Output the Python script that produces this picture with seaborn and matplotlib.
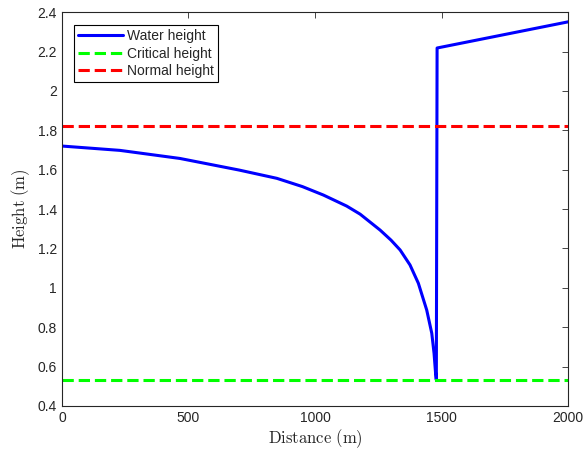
import numpy as np
import pandas as pd
import matplotlib
matplotlib.use("Agg")
import matplotlib.pyplot as plt
import seaborn as sns

# water surface profile
distance = [0, 229, 466, 700, 849, 950, 1033, 1125, 1178, 1257, 1300, 1336,
            1375, 1408, 1441, 1461, 1470, 1476, 1479, 1482, 2000]
height = [1.720, 1.698, 1.657, 1.598, 1.556, 1.514, 1.471, 1.415, 1.374,
          1.293, 1.242, 1.192, 1.116, 1.023, 0.887, 0.769, 0.667, 0.566,
          0.532, 2.218, 2.351]
critical_height = 0.53
normal_height = 1.82
x_range = [0, 2000]

sns.set_style("white")
plt.rcParams['font.family'] = ['Liberation Sans', 'DejaVu Sans']
plt.rcParams['mathtext.fontset'] = 'cm'

df = pd.DataFrame({'Distance': distance, 'Height': height})
crit = pd.DataFrame({'Distance': x_range, 'Height': [critical_height] * 2})
norm = pd.DataFrame({'Distance': x_range, 'Height': [normal_height] * 2})

fig = plt.figure(figsize=(5.84, 4.51), dpi=100)
ax = fig.add_axes([0.106, 0.1, 0.867, 0.873])

sns.lineplot(data=df, x='Distance', y='Height', color='#0000ff', lw=2.2,
             label='Water height', ax=ax, sort=False, estimator=None)
sns.lineplot(data=crit, x='Distance', y='Height', color='#00ff00', lw=2.2,
             ls='--', label='Critical height', ax=ax)
sns.lineplot(data=norm, x='Distance', y='Height', color='#ff0000', lw=2.2,
             ls='--', label='Normal height', ax=ax)

ax.set_xlim(0, 2000)
ax.set_ylim(0.4, 2.4)
ax.set_xticks([0, 500, 1000, 1500, 2000])
ax.set_yticks(np.arange(0.4, 2.41, 0.2))
ax.set_yticklabels(['0.4', '0.6', '0.8', '1', '1.2', '1.4', '1.6', '1.8', '2', '2.2', '2.4'])
ax.tick_params(direction='in', length=4, width=0.6, colors='#262626',
               labelsize=10, top=True, right=True, labelcolor='#262626')
for s in ax.spines.values():
    s.set_color('#262626')
    s.set_linewidth(0.8)

ax.set_xlabel(r'$\mathrm{Distance\ (m)}$', fontsize=12, color='#262626', labelpad=2)
ax.set_ylabel(r'$\mathrm{Height\ (m)}$', fontsize=12, color='#262626', labelpad=4)

leg = ax.legend(loc='upper left', bbox_to_anchor=(0.024, 0.967), fontsize=10,
                fancybox=False, framealpha=1, edgecolor='black',
                handlelength=3.2, borderpad=0.3, labelspacing=0.25,
                handletextpad=0.3, borderaxespad=0)
leg.get_frame().set_linewidth(0.8)

fig.savefig('out.png', dpi=100)
